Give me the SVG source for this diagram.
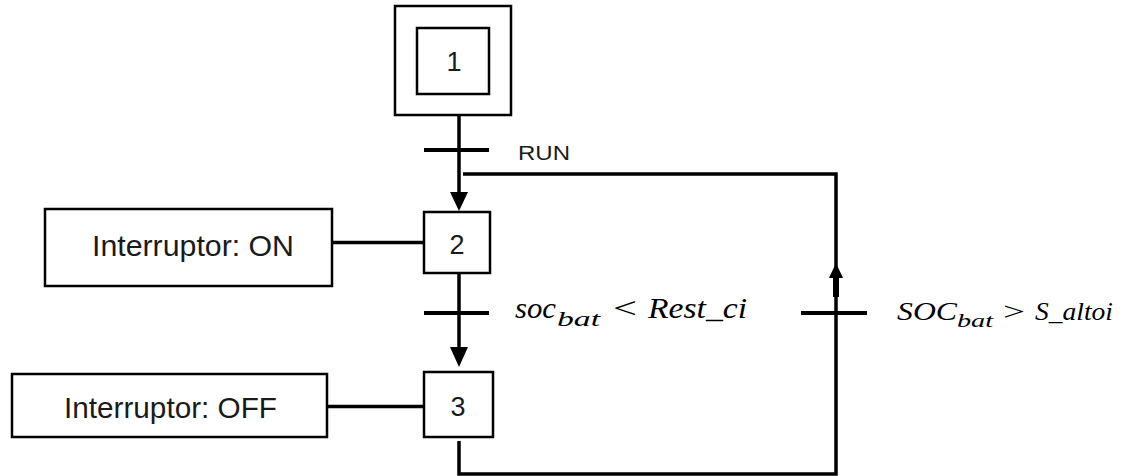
<svg xmlns="http://www.w3.org/2000/svg" width="1126" height="476" viewBox="0 0 1126 476">
<style>
.box{fill:#fff;stroke:#000;stroke-width:2.5}
.ln{fill:none;stroke:#000;stroke-width:3.5}
.bar{stroke:#000;stroke-width:4}
.lbl{font-family:"Liberation Sans",Arial,sans-serif;fill:#1a1a1a}
.math{font-family:"Liberation Serif","Times New Roman",serif;font-style:italic;fill:#000}
</style>
<rect width="1126" height="476" fill="#fff"/>
<g id="connectors">
<line class="ln" x1="459" y1="115" x2="459" y2="192"/>
<path d="M450,192 L468,192 L459,211 Z" fill="#000"/>
<line class="bar" x1="424" y1="150" x2="489" y2="150"/>
<line class="ln" x1="459" y1="273" x2="459" y2="347"/>
<path d="M450,347 L468,347 L459,367 Z" fill="#000"/>
<line class="bar" x1="424" y1="313" x2="489" y2="313"/>
<polyline class="ln" points="459,441 459,474 836,474 836,174 463,174"/>
<line x1="836" y1="275" x2="836" y2="297" stroke="#000" stroke-width="6"/>
<path d="M829,278 L843,278 L836,263 Z" fill="#000"/>
<line class="bar" x1="801" y1="313" x2="867" y2="313"/>
<line class="ln" x1="332" y1="242.5" x2="424" y2="242.5"/>
<line class="ln" x1="327" y1="406.5" x2="424" y2="406.5"/>
</g>
<g id="step1">
<rect class="box" x="395" y="6" width="116" height="109"/>
<rect class="box" x="417" y="28" width="72" height="66"/>
<text class="lbl" x="454" y="71" font-size="27" text-anchor="middle">1</text>
</g>
<g id="step2">
<rect class="box" x="424" y="212" width="66" height="61"/>
<text class="lbl" x="457" y="254" font-size="27" text-anchor="middle">2</text>
</g>
<g id="step3">
<rect class="box" x="424" y="372" width="69" height="65"/>
<text class="lbl" x="458" y="416" font-size="27" text-anchor="middle">3</text>
</g>
<g id="action-on">
<rect class="box" x="45" y="209" width="287" height="77"/>
<text class="lbl" x="92" y="256" font-size="29" textLength="202" lengthAdjust="spacingAndGlyphs">Interruptor: ON</text>
</g>
<g id="action-off">
<rect class="box" x="12" y="374" width="315" height="63"/>
<text class="lbl" x="64" y="418" font-size="29" textLength="213" lengthAdjust="spacingAndGlyphs">Interruptor: OFF</text>
</g>
<g id="transition-run">
<text class="lbl" x="518" y="160" font-size="20" textLength="52" lengthAdjust="spacingAndGlyphs">RUN</text>
</g>
<g id="transition-soc-low">
<text class="math" font-size="30"><tspan x="515" y="318" textLength="41" lengthAdjust="spacingAndGlyphs">soc</tspan><tspan x="557" y="326" font-size="21" textLength="43" lengthAdjust="spacingAndGlyphs">bat</tspan><tspan x="613" y="318" font-style="normal" textLength="24" lengthAdjust="spacingAndGlyphs">&lt;</tspan><tspan x="648" y="318" textLength="99" lengthAdjust="spacingAndGlyphs">Rest_ci</tspan></text>
</g>
<g id="transition-soc-high">
<text class="math" font-size="25"><tspan x="897" y="320" textLength="60" lengthAdjust="spacingAndGlyphs">SOC</tspan><tspan x="957" y="327" font-size="18" textLength="36" lengthAdjust="spacingAndGlyphs">bat</tspan><tspan x="1003" y="320" font-style="normal" textLength="22" lengthAdjust="spacingAndGlyphs">&gt;</tspan><tspan x="1035" y="320" textLength="78" lengthAdjust="spacingAndGlyphs">S_altoi</tspan></text>
</g>
</svg>
